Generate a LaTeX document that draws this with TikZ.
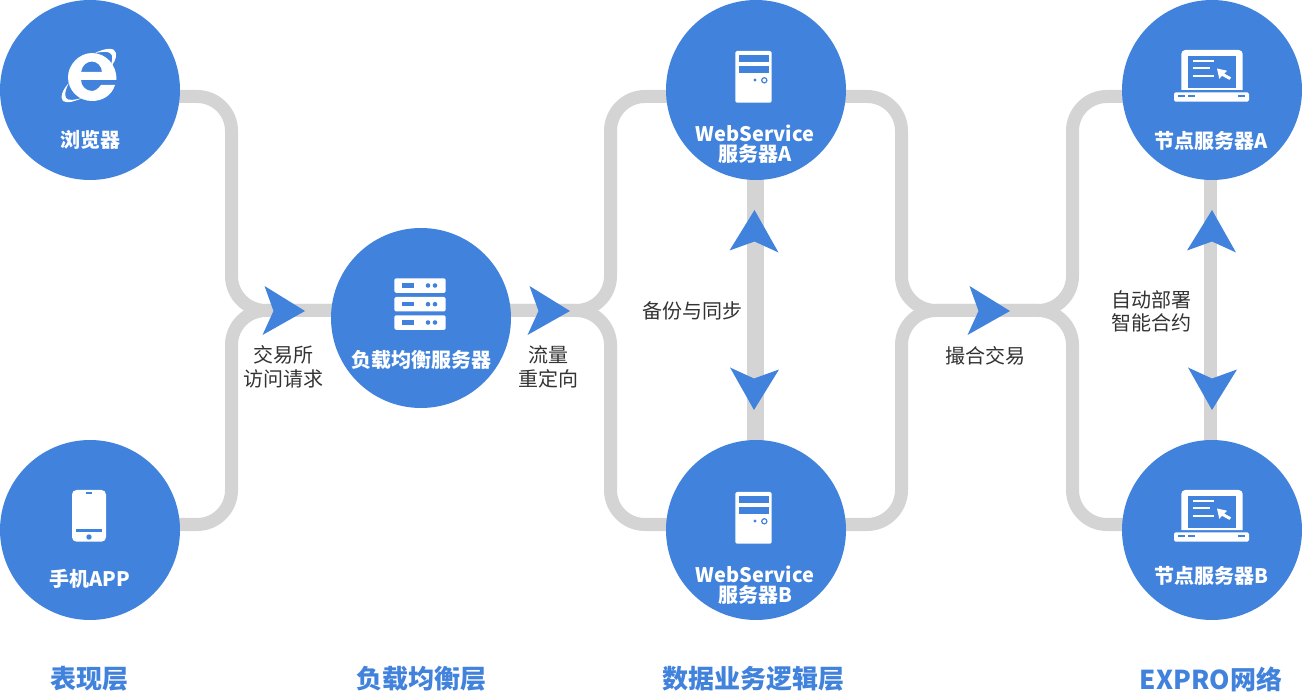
\documentclass[tikz,border=0pt]{standalone}
\usepackage{fontspec}
\setmainfont{Noto Sans CJK SC}
\usetikzlibrary{backgrounds}
\definecolor{hubblue}{HTML}{4182DC}
\definecolor{pipegray}{HTML}{D4D4D4}
\definecolor{notegray}{HTML}{333333}

\begin{document}
\begin{tikzpicture}[
  x=1pt, y=-1pt, % 1pt = one pixel of the sketch, y runs downwards
  hub/.style={circle, fill=hubblue, minimum size=180pt, inner sep=0pt},
  hubtag/.style={text=white, font=\fontsize{20}{20}\selectfont\bfseries, align=center, inner sep=0pt},
  note/.style={text=notegray, font=\fontsize{20}{23.5}\selectfont, align=center, inner sep=0pt},
  layertag/.style={text=hubblue, font=\fontsize{26}{30}\selectfont\bfseries, inner sep=0pt},
  pipe/.style={draw=pipegray, line width=13pt, rounded corners=34.5pt},
  dartfill/.style={fill=hubblue, draw=none}
]
  \useasboundingbox (0,0) rectangle (1302,692);

  % circles
  \foreach \name/\x/\y in {browser/90/90, phone/90/530, balancer/421/318, webA/756/90, webB/756/530, peerA/1212/90, peerB/1212/530} {
    \node[hub] (\name) at (\x,\y) {};
  }

  % where the pipes meet
  \coordinate (busL) at (231.5,310.5);
  \coordinate (busM) at (610.5,310.5);
  \coordinate (busR) at (901.5,310.5);
  \coordinate (busS) at (1072.5,310.5);

  \begin{scope}[on background layer]
    \draw[pipe] ([yshift=-6.5pt]browser.center) -| (busL) -- (balancer.center |- busL);
    \draw[pipe] ([yshift=5.5pt]phone.center) -| (busL) -- (balancer.center |- busL);
    \draw[pipe] (balancer.center |- busM) -- (busM) |- ([yshift=-6.5pt]webA.center);
    \draw[pipe] (balancer.center |- busM) -- (busM) |- ([yshift=5.5pt]webB.center);
    \draw[pipe] ([yshift=-6.5pt]webA.center) -| (busR) -- (busS) |- ([yshift=-6.5pt]peerA.center);
    \draw[pipe] ([yshift=5.5pt]webB.center) -| (busR) -- (busS) |- ([yshift=5.5pt]peerB.center);
    \draw[pipegray, line width=17pt] ([xshift=-0.5pt]webA.center) -- ([xshift=-0.5pt]webB.center);
    \draw[pipegray, line width=13pt] ([xshift=-1.5pt]peerA.center) -- ([xshift=-1.5pt]peerB.center);
  \end{scope}

  % dart: origin in the middle of its back, pointing right before rotation
  \newcommand{\dartat}[3]{%
    \begin{scope}[shift={(#1,#2)}, rotate=#3]
      \fill[dartfill] (0.5,-25) -- (41,0) -- (-1.5,24) -- (9.5,0) -- cycle;
    \end{scope}
  }
  \dartat{264}{311}{0}
  \dartat{529}{311}{0}
  \dartat{969}{311}{0}
  \dartat{754.5}{251}{90}
  \dartat{754}{369}{-90}
  \dartat{1212}{251}{90}
  \dartat{1212}{369}{-90}

  % tower icon
  \newcommand{\towericon}[1]{%
    \begin{scope}[shift={(0,#1)}]
      \fill[white, rounded corners=1.5pt] (735.3,51) rectangle (771.7,102.7);
      \fill[hubblue] (738.7,55) rectangle (768.7,62.3);
      \fill[hubblue] (738.7,66) rectangle (768.7,73.3);
      \fill[hubblue] (755,80) circle[radius=1.7pt];
      \draw[hubblue, line width=1.2pt] (764.3,80.3) circle[radius=2.6pt];
    \end{scope}
  }
  \towericon{0}
  \towericon{441}

  % laptop icon
  \newcommand{\laptopicon}[1]{%
    \begin{scope}[shift={(0,#1)}]
      \fill[white] (1181.3,90) [rounded corners=4pt] -- (1181.3,50) -- (1242.7,50) [sharp corners] -- (1242.7,90) -- cycle;
      \fill[hubblue] (1188,56) rectangle (1236.3,88);
      \fill[white, rounded corners=1.5pt] (1174,92.3) rectangle (1249,101.7);
      \foreach \xa/\xb in {1178.3/1185, 1188.3/1195, 1238.3/1245} {
        \fill[hubblue] (\xa,95) rectangle (\xb,96.7);
      }
      \foreach \yy/\xb in {61/1214, 68.3/1210, 76/1214} {
        \fill[white] (1192.7,\yy-1.1) rectangle (\xb,\yy+1.1);
      }
      \fill[white] (1217,68.5) -- (1227.2,70.8) -- (1224.2,73.6) -- (1231.2,77.4) -- (1229.4,79.8) -- (1222,75.8) -- (1219.3,78.8) -- cycle;
    \end{scope}
  }
  \laptopicon{0}
  \laptopicon{440}

  % rack icon
  \foreach \yy in {278.3, 297, 315.3} {
    \fill[white, rounded corners=1.5pt] (394.3,\yy) rectangle (445.7,\yy+14.5);
    \fill[hubblue] (401.7,\yy+5) rectangle (414.3,\yy+9.4);
    \fill[hubblue] (428,\yy+7.2) circle[radius=2.3pt];
    \fill[hubblue] (435,\yy+7.2) circle[radius=2.3pt];
  }

  % phone icon
  \fill[white, rounded corners=4.5pt] (72,490) rectangle (106,541.7);
  \fill[hubblue] (86,492.5) rectangle (92,494.5);
  \fill[hubblue] (76,529) rectangle (102,532);
  \fill[hubblue] (89,537) circle[radius=2.7pt];

  % browser icon
  \fill[white, even odd rule] (116.5,80) .. controls (117,65) and (106,53) .. (92,53)
    .. controls (79,53) and (68,65) .. (68,77) .. controls (68,91) and (79,101) .. (92,101)
    .. controls (103,101) and (112,95) .. (115,85) -- (101,85)
    .. controls (98,89) and (95,91) .. (92,91) .. controls (86,91) and (81,86) .. (81,80) -- cycle
    (81,72) .. controls (82,65) and (87,61.5) .. (92,61.5) .. controls (97,61.5) and (102,66) .. (102,72) -- cycle;
  \fill[white] (95,53) .. controls (105,48) and (115,47) .. (116,53) .. controls (117,59) and (113,64) .. (110,68)
    .. controls (112,62) and (114,55) .. (110,53) .. controls (107,51) and (101,52) .. (95,53) -- cycle;
  \fill[white] (69,83) .. controls (62,90) and (60,98) .. (63,101) .. controls (67,104) and (76,101) .. (82,98)
    .. controls (75,100) and (68,101) .. (66,98) .. controls (64,94) and (66,88) .. (69,83) -- cycle;

  % circle captions
  \node[hubtag] (browserTag) at (90,140) {浏览器};
  \node[hubtag] (phoneTag) at (90,579) {手机APP};
  \node[hubtag] (balancerTag) at (421,360) {负载均衡服务器};
  \node[hubtag] (webATag) at (755,144) {WebService\\服务器A};
  \node[hubtag] (webBTag) at (755,585) {WebService\\服务器B};
  \node[hubtag] (peerATag) at (1211,141) {节点服务器A};
  \node[hubtag] (peerBTag) at (1211,576) {节点服务器B};

  % pipe notes
  \node[note] (orderNote) at (283,367) {交易所\\访问请求};
  \node[note] (flowNote) at (548,367) {流量\\重定向};
  \node[note] (backupNote) at (692,311) {备份与同步};
  \node[note] (matchNote) at (985,356) {撮合交易};
  \node[note] (deployNote) at (1151,311.5) {自动部署\\智能合约};

  % layer names
  \node[layertag] (layerShow) at (89,679) {表现层};
  \node[layertag] (layerBalance) at (421,679) {负载均衡层};
  \node[layertag] (layerLogic) at (753,679) {数据业务逻辑层};
  \node[layertag] (layerNet) at (1211,679) {EXPRO网络};
\end{tikzpicture}
\end{document}
